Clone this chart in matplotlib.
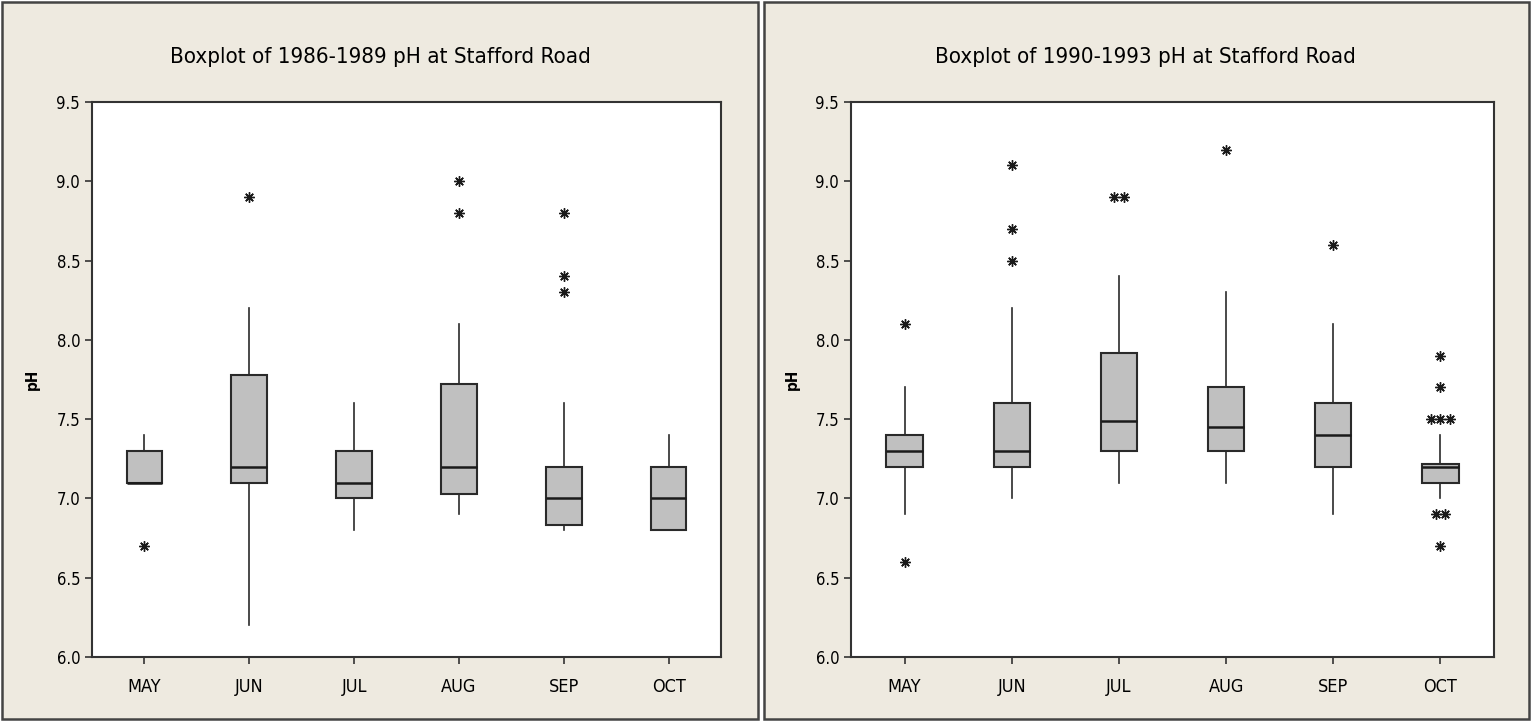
import matplotlib.pyplot as plt
from matplotlib.patches import Rectangle
from collections import Counter

plt.rcParams['font.family'] = ['DejaVu Sans']
plt.rcParams['font.stretch'] = 'condensed'

months = ['MAY', 'JUN', 'JUL', 'AUG', 'SEP', 'OCT']

# 1986-1989
q1_a = [7.1, 7.1, 7.0, 7.03, 6.83, 6.8]
med_a = [7.1, 7.2, 7.1, 7.2, 7.0, 7.0]
q3_a = [7.3, 7.78, 7.3, 7.72, 7.2, 7.2]
lo_a = [7.1, 6.2, 6.8, 6.9, 6.8, 6.8]
hi_a = [7.4, 8.2, 7.6, 8.1, 7.6, 7.4]
out_a = [[6.7], [8.9], [], [9.0, 8.8], [8.8, 8.4, 8.3], []]

# 1990-1993
q1_b = [7.2, 7.2, 7.3, 7.3, 7.2, 7.1]
med_b = [7.3, 7.3, 7.49, 7.45, 7.4, 7.2]
q3_b = [7.4, 7.6, 7.92, 7.7, 7.6, 7.22]
lo_b = [6.9, 7.0, 7.1, 7.1, 6.9, 7.0]
hi_b = [7.7, 8.2, 8.4, 8.3, 8.1, 7.4]
out_b = [[8.1, 6.6], [9.1, 8.7, 8.5], [8.9, 8.9], [9.2], [8.6],
         [7.9, 7.7, 7.5, 7.5, 7.5, 6.9, 6.9, 6.7]]

titles = ['Boxplot of 1986-1989 pH at Stafford Road',
          'Boxplot of 1990-1993 pH at Stafford Road']

W, H = 1531, 721
fig = plt.figure(figsize=(W / 100, H / 100), dpi=100, facecolor='white')

# fondo de los paneles
bg = '#eeeae0'
for x0, x1 in [(2, 758), (764, 1529)]:
    fig.patches.append(Rectangle((x0 / W, 2 / H), (x1 - x0) / W, (H - 4) / H,
                                 transform=fig.transFigure, facecolor=bg,
                                 edgecolor='#444444', linewidth=1.8, zorder=-5))


def dibujar(ax, q1, med, q3, lo, hi, outs, titulo, cx):
    stats = []
    for i in range(len(months)):
        stats.append({'q1': q1[i], 'med': med[i], 'q3': q3[i],
                      'whislo': lo[i], 'whishi': hi[i], 'fliers': []})
    ax.bxp(stats, positions=range(1, 7), widths=0.34, showfliers=False,
           showcaps=False, patch_artist=True,
           boxprops=dict(facecolor='#c0c0c0', edgecolor='#2a2a2a', linewidth=1.5),
           medianprops=dict(color='#1a1a1a', linewidth=1.8),
           whiskerprops=dict(color='#2a2a2a', linewidth=1.2))
    # outliers, los repetidos uno al lado del otro
    for i, vals in enumerate(outs):
        cnt = Counter(vals)
        for v, n in cnt.items():
            xs = [i + 1 + (k - (n - 1) / 2) * 0.09 for k in range(n)]
            ax.plot(xs, [v] * n, linestyle='none', marker=(8, 2, 0),
                    markersize=7.5, color='#1a1a1a', markeredgewidth=1.0)
    ax.set_xlim(0.5, 6.5)
    ax.set_ylim(6.0, 9.5)
    ax.set_yticks([6.0, 6.5, 7.0, 7.5, 8.0, 8.5, 9.0, 9.5])
    ax.set_yticklabels(['6.0', '6.5', '7.0', '7.5', '8.0', '8.5', '9.0', '9.5'])
    ax.set_xticks(range(1, 7))
    ax.set_xticklabels(months)
    ax.tick_params(axis='both', direction='out', length=5, width=1.2,
                   color='#333333', labelsize=12)
    ax.tick_params(axis='x', pad=10, labelsize=13)
    for s in ax.spines.values():
        s.set_color('#333333')
        s.set_linewidth(1.5)
    ax.set_facecolor('white')
    ax.set_ylabel('pH', fontsize=11, fontweight='bold')
    fig.text(cx / W, 1 - 57 / H, titulo, ha='center', va='center', fontsize=16)


ax1 = fig.add_axes([92 / W, (H - 657) / H, 629 / W, 555 / H])
ax2 = fig.add_axes([851 / W, (H - 657) / H, 643 / W, 555 / H])
dibujar(ax1, q1_a, med_a, q3_a, lo_a, hi_a, out_a, titles[0], 380)
dibujar(ax2, q1_b, med_b, q3_b, lo_b, hi_b, out_b, titles[1], 1145)
ax1.yaxis.set_label_coords((40 - 92) / 629, 0.5)
ax2.yaxis.set_label_coords((800 - 851) / 643, 0.5)

fig.savefig('out.png', dpi=100, facecolor='white')
